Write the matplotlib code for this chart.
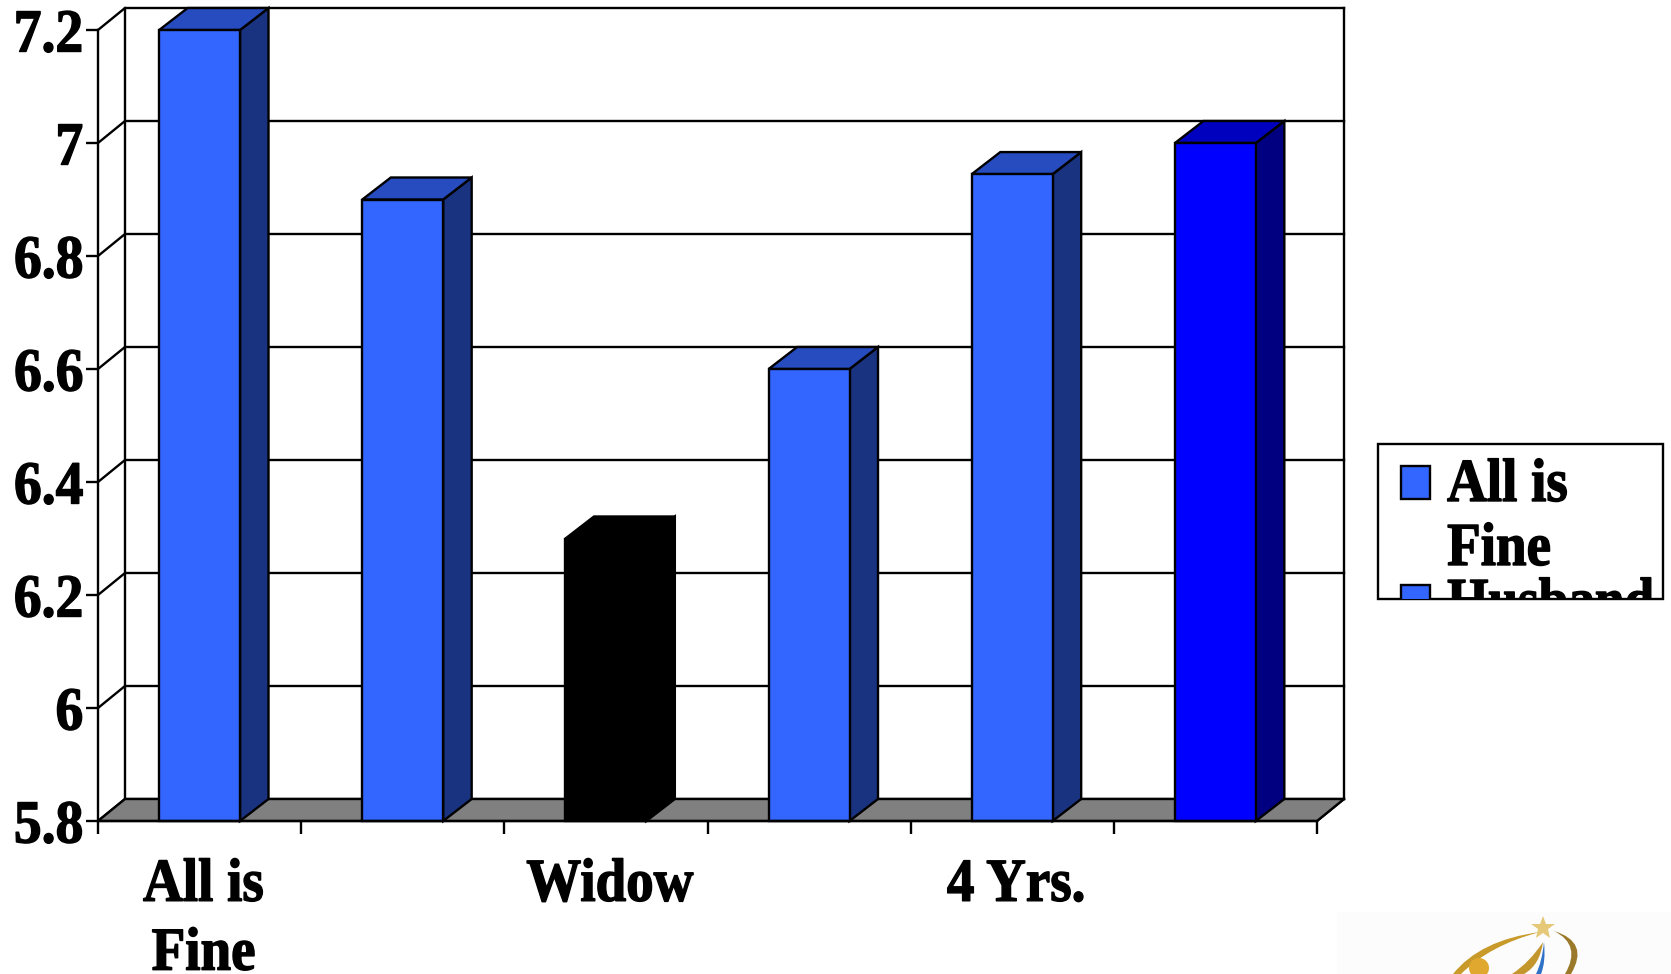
import matplotlib
matplotlib.use('Agg')
import matplotlib.pyplot as plt
from matplotlib.patches import Polygon, Rectangle, PathPatch, Circle
from matplotlib.path import Path
from matplotlib.patheffects import AbstractPathEffect
from matplotlib.transforms import Affine2D

plt.rcParams['font.family'] = ['Liberation Serif']
plt.rcParams['font.weight'] = 'bold'

# six groups, only every other one gets a label on the axis
cat_labels = ['All is\nFine', '', 'Widow', '', '4 Yrs.', '']
values = [7.2, 6.9, 6.3, 6.6, 6.945, 7.0]
face_colors = ['#3366FF', '#3366FF', '#000000', '#3366FF', '#3366FF', '#0000FF']
top_colors = ['#264CBF', '#264CBF', '#000000', '#264CBF', '#264CBF', '#0000BF']
side_colors = ['#1A3380', '#1A3380', '#000000', '#1A3380', '#1A3380', '#000080']
y_ticks = [5.8, 6, 6.2, 6.4, 6.6, 6.8, 7, 7.2]
y_labels = ['5.8', '6', '6.2', '6.4', '6.6', '6.8', '7', '7.2']
legend_names = ['All is\nFine', 'Husband']

W, H = 1671, 974
FS = 44
LW = 1.7
CAT_PX = 1219 / 6
DX = 27 / CAT_PX        # depth of the 3d box in x units
DY = 22 / 565           # depth in y units
BAR_DX = 28.5 / CAT_PX  # bars stick back a touch more than the wall
BAR_W = 0.398
YMIN, YMAX = 5.8, 7.2
n = len(values)


class Squeeze(AbstractPathEffect):
    """Narrows text sideways around its left, centre or right end and thickens it."""

    def __init__(self, sx, anchor='center', stroke=1.0, dx=0):
        super().__init__()
        self.sx, self.anchor, self.stroke, self.dx = sx, anchor, stroke, dx

    def draw_path(self, renderer, gc, tpath, affine, rgbFace=None):
        ext = tpath.get_extents()
        cx = {'left': ext.x0, 'center': (ext.x0 + ext.x1) / 2, 'right': ext.x1}[self.anchor]
        squeeze = Affine2D().translate(-cx, 0).scale(self.sx, 1).translate(cx, 0)
        gc0 = renderer.new_gc()
        gc0.copy_properties(gc)
        gc0.set_linewidth(self.stroke)
        gc0.set_foreground('black')
        renderer.draw_path(gc0, tpath, squeeze + affine + Affine2D().translate(self.dx, 0), rgbFace)
        gc0.restore()


fig = plt.figure(figsize=(W / 100, H / 100), dpi=100, facecolor='white')
ax = fig.add_axes([98 / W, 1 - 821 / H, 1219 / W, 791 / H])
ax.set_xlim(0, n)
ax.set_ylim(YMIN, YMAX)
ax.patch.set_visible(False)
for s in ['top', 'right']:
    ax.spines[s].set_visible(False)
for s in ['left', 'bottom']:
    ax.spines[s].set_linewidth(LW)
ax.spines['left'].set_zorder(1)


def line(xs, ys, z=1):
    ax.plot(xs, ys, color='black', lw=LW, clip_on=False, zorder=z, solid_capstyle='projecting')


def poly(pts, fc, z):
    ax.add_patch(Polygon(pts, closed=True, facecolor=fc, edgecolor='black', lw=LW,
                         joinstyle='miter', clip_on=False, zorder=z))


# floor
poly([(0, YMIN), (DX, YMIN + DY), (n + DX, YMIN + DY), (n, YMIN)], '#808080', 1.5)

# back wall and gridlines
line([DX, DX], [YMIN + DY, YMAX + DY])
line([n + DX, n + DX], [YMIN + DY, YMAX + DY])
line([n, n + DX], [YMIN, YMIN + DY])
for y in y_ticks:
    line([0, DX, n + DX], [y, y + DY, y + DY])

# bars, front face plus side and top
for i, v in enumerate(values):
    x0 = i + 0.5 - BAR_W / 2
    x1 = x0 + BAR_W
    z = 2 + i * 0.01
    poly([(x1, YMIN), (x1 + BAR_DX, YMIN + DY), (x1 + BAR_DX, v + DY), (x1, v)], side_colors[i], z)
    poly([(x0, v), (x0 + BAR_DX, v + DY), (x1 + BAR_DX, v + DY), (x1, v)], top_colors[i], z)
    ax.bar(i + 0.5, v - YMIN, BAR_W, bottom=YMIN, color=face_colors[i], edgecolor='black',
           lw=LW, clip_on=False, zorder=z + 0.001)

ax.set_yticks(y_ticks)
ax.set_yticklabels(y_labels, fontsize=FS, fontweight='bold')
ax.tick_params(axis='y', length=8.5, width=LW, pad=2)
for lab in ax.get_yticklabels():
    lab.set_path_effects([Squeeze(0.91, 'right')])
ax.set_xticks(range(n + 1))
ax.set_xticklabels([])
ax.tick_params(axis='x', which='major', length=9.5, width=LW)
ax.set_xticks([i + 0.5 for i in range(n)], minor=True)
ax.set_xticklabels(cat_labels, minor=True, fontsize=FS, fontweight='bold', linespacing=1.3)
ax.tick_params(axis='x', which='minor', length=0, pad=26.5)
for lab in ax.get_xticklabels(minor=True):
    lab.set_path_effects([Squeeze(0.9, 'center', dx=4)])

# overlay in pixel coordinates for the legend box and the logo
ov = fig.add_axes([0, 0, 1, 1])
ov.set_xlim(0, W)
ov.set_ylim(H, 0)
ov.axis('off')
ov.patch.set_visible(False)

box = Rectangle((1378, 444), 285, 155, facecolor='white', edgecolor='black', lw=LW)
ov.add_patch(box)
ov.add_patch(Rectangle((1401, 466), 29, 33, facecolor='#3366FF', edgecolor='black', lw=LW))
sq2 = Rectangle((1401, 585), 29, 33, facecolor='#3366FF', edgecolor='black', lw=LW)
ov.add_patch(sq2)
sq2.set_clip_path(box)
first, second = legend_names[0].split('\n')
for txt, base, sx in [(first, 501, 0.9), (second, 565, 0.9), (legend_names[1], 620, 0.87)]:
    t = ov.text(1447, base, txt, fontsize=FS, va='baseline', ha='left')
    t.set_path_effects([Squeeze(sx, 'left')])
    t.set_clip_on(True)
    t.set_clip_path(box)

# logo in the corner
ov.add_patch(Rectangle((1337, 912), 334, 62, facecolor='#FCFCFC', edgecolor='none'))


def swoosh(a, c1, b, d, c2, fc):
    # two curved edges joined into one tapered ribbon
    codes = [Path.MOVETO, Path.CURVE3, Path.CURVE3, Path.LINETO, Path.CURVE3, Path.CURVE3]
    ov.add_patch(PathPatch(Path([a, c1, b, d, c2, a], codes), facecolor=fc, edgecolor='none'))


swoosh((1540, 932), (1480, 940), (1453, 974), (1461, 974), (1490, 945), '#C89A2A')
swoosh((1554, 931), (1582, 945), (1565, 974), (1571, 974), (1590, 942), '#9A7A2A')
swoosh((1543, 942), (1530, 962), (1512, 974), (1524, 974), (1540, 965), '#C4962E')
swoosh((1544, 942), (1542, 962), (1536, 974), (1541, 974), (1546, 962), '#2F72C8')
ov.add_patch(Circle((1479, 968), 10, facecolor='#E0A82E', edgecolor='none'))
ov.plot([1543], [928], marker='*', ms=18, color='#E5C878', mew=0)

fig.savefig('out.png', dpi=100)
